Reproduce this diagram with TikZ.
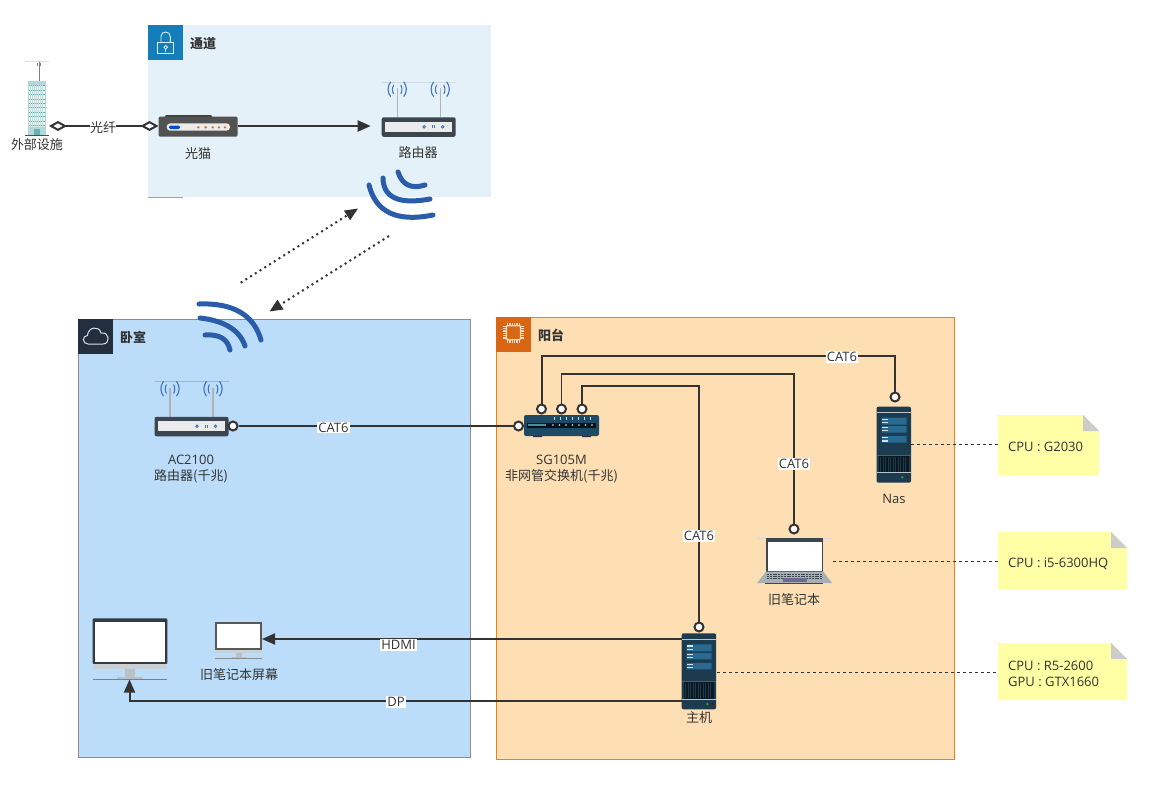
\documentclass[tikz,border=0pt]{standalone}
\usepackage{fontspec}
\setmainfont{Noto Sans CJK SC}
\newfontfamily\latinf{Open Sans}
\usetikzlibrary{arrows.meta,calc}
\definecolor{ink}{HTML}{333333}
\definecolor{wifi}{HTML}{2A5CAA}
\definecolor{antblue}{HTML}{3E72C4}
\definecolor{srv}{HTML}{1D3B4F}
\definecolor{srvbar}{HTML}{2A6A90}
\definecolor{notey}{HTML}{FFFFA6}
\definecolor{notefold}{HTML}{CCCCCC}
\definecolor{panelA}{HTML}{E5F1F8}
\definecolor{panelB}{HTML}{BBDDF9}
\definecolor{panelC}{HTML}{FEDFB3}
\definecolor{headA}{HTML}{147EBA}
\definecolor{headB}{HTML}{232F3E}
\definecolor{headC}{HTML}{D86613}
\definecolor{routerbody}{HTML}{3C4650}
\definecolor{screenframe}{HTML}{343A44}
\definecolor{chin}{HTML}{C9D0D6}
\definecolor{stand}{HTML}{B9C0C6}
\tikzset{
  txt/.style={inner sep=0pt,text=ink,font=\fontsize{13pt}{16pt}\selectfont,align=center},
  headtxt/.style={inner sep=0pt,anchor=west,text=ink,font=\fontsize{13pt}{16pt}\selectfont\bfseries},
  conlabel/.style={inner sep=1pt,fill=white,text=ink,font=\fontsize{13pt}{14pt}\selectfont\latinf},
  con/.style={draw=ink,line width=2pt},
  tri/.style={-{Triangle[length=13pt,width=11pt,fill=ink]}},
  port/.style={circle,draw=ink,fill=white,line width=2pt,minimum size=9pt,inner sep=0pt},
  wave/.style={draw=wifi,line width=5pt,line cap=round},
  dotarrow/.style={draw=ink,line width=2pt,dash pattern=on 2pt off 3.6pt,-{Triangle[length=13pt,width=11pt,fill=ink]}},
  notelink/.style={draw=ink,line width=.8pt,dashed},
  iconbox/.style={inner sep=0pt,outer sep=0pt},
  notetxt/.style={inner sep=0pt,anchor=west,align=left,text=ink,font=\fontsize{13pt}{16pt}\selectfont\latinf},
}
% router: origin = top-left of the case
\newcommand{\iconrouter}[4]{%
\begin{scope}[shift={(#2,#3)}]
  \draw[draw=black!40,draw opacity=#4,line width=.6pt] (0,-35.5) -- (74,-35.5);
  \draw[draw=black!30,line width=1.2pt] (15.5,-29) -- (15.5,0) (58.5,-29) -- (58.5,0);
  \foreach \ax in {15.5,58.5}{
    \draw[antblue,line width=1pt] (\ax-3.5,-32.3) .. controls (\ax-5.2,-30) and (\ax-5.2,-25.6) .. (\ax-3.5,-23.3);
    \draw[antblue,line width=1pt] (\ax+3.5,-32.3) .. controls (\ax+5.2,-30) and (\ax+5.2,-25.6) .. (\ax+3.5,-23.3);
    \draw[antblue,line width=1.1pt] (\ax-6.5,-35.5) .. controls (\ax-10,-31) and (\ax-10,-25) .. (\ax-6.5,-20.6);
    \draw[antblue,line width=1.1pt] (\ax+6.5,-35.5) .. controls (\ax+10,-31) and (\ax+10,-25) .. (\ax+6.5,-20.6);
  }
  \fill[routerbody,rounded corners=2pt] (0,0) rectangle (74,19.5);
  \fill[white!92!black] (3.5,4.5) rectangle (70.5,14.5);
  \draw[antblue,line width=.9pt] (42.5,9.5) circle (1.3pt) (61,9.5) circle (1.3pt);
  \draw[antblue,line width=.7pt] (50.5,8) -- (50.5,11) (52.5,8) -- (52.5,11);
  \node[iconbox,minimum width=74pt,minimum height=19.5pt] (#1) at (37,9.75) {};
\end{scope}}
% server: origin = top-left
\newcommand{\iconserver}[3]{%
\begin{scope}[shift={(#2,#3)}]
  \fill[srv,rounded corners=2pt] (0,0) rectangle (34.5,76);
  \fill[white!70!srv] (0,5.6) rectangle (34.5,6.6);
  \fill[srvbar] (5,11) rectangle (30,18) (5,19.5) rectangle (30,26) (5,29.5) rectangle (30,36);
  \foreach \yy in {12.7,16,21,24,31,34.3}{\fill[white!80!srvbar] (5.5,\yy-.6) rectangle (11.5,\yy+.6);}
  \fill[srvbar] (0,48) rectangle (34.5,48.9);
  \fill[black!60!srv] (2,49) rectangle (32.5,65.5);
  \foreach \xx in {4,6.5,...,31}{\draw[srv,line width=.5pt] (\xx,50) -- (\xx,65);}
  \fill[white!70!srv] (0,65.7) rectangle (34.5,66.7);
  \fill[green!45!teal] (25.7,70.7) circle (1.2pt);
  \fill[red!55!black] (30.7,70.7) circle (1.2pt);
  \node[iconbox,minimum width=34.5pt,minimum height=76pt] (#1) at (17.25,38) {};
\end{scope}}
\begin{document}
\begin{tikzpicture}[x=1pt,y=-1pt]
\useasboundingbox (0,0) rectangle (1152,804);
\fill[white] (0,0) rectangle (1152,804);

% ---------- panels
\fill[panelA] (148,25) rectangle (491,197);
\draw[headA!60!white,line width=.8pt] (148,197.3) -- (183,197.3);
\fill[headA] (148,25) rectangle (183,60);
\draw[fill=panelB,draw=black!45,line width=1pt] (78,319) rectangle (470,757);
\fill[headB] (78,319) rectangle (113,354);
\draw[fill=panelC,draw=orange!80!brown,line width=1pt] (496,317) rectangle (954,759);
\fill[headC] (496,317) rectangle (531,352);

% header icons
\draw[white!85!headA,line width=.9pt] (157.7,42.7) rectangle (173.7,53.5);
\draw[white!85!headA,line width=.9pt] (161,42.7) -- (161,36.5) .. controls (161,30.5) and (170.3,30.5) .. (170.3,36.5) -- (170.3,42.7);
\draw[white!85!headA,line width=.8pt] (165.7,47.3) circle (1.8pt);
\draw[white!85!headA,line width=.8pt] (165.7,49.1) -- (165.7,51.6);
\draw[black!12,line width=1pt,line join=round] (88,344) .. controls (82,344) and (82,335.5) .. (87.5,335.5)
  .. controls (88,327) and (99,325) .. (101,333)
  .. controls (110,331.5) and (110.5,344) .. (103,344) -- cycle;
\draw[white!75!headC,line width=1.4pt,rounded corners=1pt,fill=headC] (506.5,325.7) rectangle (520.5,339.7);
\foreach \k in {0,...,7}{
  \draw[white!75!headC,line width=.8pt] (507.3+\k*1.75,322.8) -- (507.3+\k*1.75,325)
    (507.3+\k*1.75,340.4) -- (507.3+\k*1.75,342.6)
    (503.4,326.5+\k*1.75) -- (505.8,326.5+\k*1.75)
    (521.2,326.5+\k*1.75) -- (523.6,326.5+\k*1.75);
}
\node[headtxt] (hA) at (190,44) {通道};
\node[headtxt] (hB) at (120,337) {卧室};
\node[headtxt] (hC) at (538,335) {阳台};

% ---------- building
\draw[black!12,line width=.6pt] (25,61) -- (49,61);
\draw[black!50,line width=.9pt] (39.3,62) -- (39.3,81);
\draw[black!50,line width=.7pt] (37.8,62.5) -- (37.8,66) (40.8,62.5) -- (40.8,66);
\fill[teal!30!white] (28.3,81) rectangle (46,135);
\fill[teal!8!white] (29,85) rectangle (45.3,127);
\foreach \r in {0,...,9}{\draw[teal!60!white,line width=.7pt] (29,85.5+\r*4.45) -- (45.3,85.5+\r*4.45);}
\foreach \c in {30.5,32.5,...,44}{\draw[teal!25!white,line width=.5pt] (\c,85) -- (\c,127);}
\fill[teal!60!white] (34,129) rectangle (40,135);
\draw[black!70,line width=1pt] (25,135.6) -- (49,135.6);
\node[iconbox,minimum width=24pt,minimum height=54pt] (bld) at (37,108) {};
\coordinate (bldout) at (49,126);

% ---------- modem
\fill[black!75,rounded corners=1pt] (165,115) rectangle (212,118);
\fill[black!68,rounded corners=2pt] (158.5,116.5) rectangle (237.7,136.7);
\fill[white!92!black,rounded corners=3.5pt] (166.7,123.3) rectangle (230,130.7);
\fill[blue!65!cyan!85!black,rounded corners=1.3pt] (169,125.5) rectangle (180,129);
\foreach \d in {198.3,205.7,212.7,219,225}{\fill[orange!80!red] (\d,127.3) circle (1.3pt);}
\node[iconbox,minimum width=79pt,minimum height=22pt] (modem) at (198,126) {};

% ---------- routers
\iconrouter{router}{381.7}{117.3}{.25}
\iconrouter{ac}{154.5}{416.8}{.6}

% ---------- switch
\fill[headB] (533,434) rectangle (542,437.2) (582,434) rectangle (591,437.2);
\fill[srvbar!70!black,rounded corners=2pt] (524,415) rectangle (599,436);
\fill[black!70!srv] (526.7,422.7) rectangle (596,427.5);
\fill[srvbar!50!teal!80!white] (527.5,424.3) rectangle (546,426);
\foreach \d in {553,559.5,566,572.5,579,585.5,592}{\fill[white!85!srvbar] (\d,425) circle (.8pt);}
\foreach \d in {554,560,566,572,578,584,590}{\draw[white!75!srvbar,line width=.9pt] (\d,416.5) -- (\d,420);}
\node[iconbox,minimum width=75pt,minimum height=21pt] (sw) at (561.5,425.5) {};

% ---------- servers
\iconserver{nas}{876.5}{406.7}
\iconserver{pc}{681.7}{633.3}

% ---------- laptop
\draw[black!15,line width=.5pt] (757,538) -- (832,538);
\fill[routerbody] (766,538.3) rectangle (823.3,572);
\fill[white] (767.5,541.7) rectangle (821.7,571);
\fill[srvbar!20!gray!60!white] (766,571.7) -- (823.3,571.7) -- (832,583) -- (757,583) -- cycle;
\foreach \yy in {574,576,578}{\draw[routerbody,line width=1pt,dash pattern=on 2pt off .8pt] (767,\yy) -- (822,\yy);}
\fill[gray!85!blue] (782.7,577.7) rectangle (806.7,582);
\draw[routerbody,line width=.8pt] (765,583.4) -- (823,583.4);
\node[iconbox,minimum width=75pt,minimum height=46pt] (lap) at (794.5,561) {};

% ---------- monitors
\fill[screenframe,rounded corners=1pt] (92.7,618.3) rectangle (167.3,664);
\fill[white] (95.3,622.3) rectangle (165.3,661.7);
\fill[chin] (92.7,664) rectangle (167.3,669.3);
\fill[stand] (125,669.3) rectangle (135,677.3);
\fill[stand] (116.7,677.3) rectangle (142.7,679);
\draw[black!50,line width=.7pt] (92.7,679.4) -- (167.3,679.4);
\node[iconbox,minimum width=75pt,minimum height=61pt] (bigmon) at (130,649) {};

\fill[black!65] (215,621.7) rectangle (261.7,649.5);
\fill[white] (217,624) rectangle (259.7,648);
\fill[chin] (215,649.5) rectangle (261.7,652.7);
\fill[stand] (235.7,652.7) rectangle (241.7,657.3);
\fill[stand] (231.7,657) rectangle (245.7,658);
\draw[black!45,line width=.6pt] (215,658.7) -- (261.7,658.7);
\node[iconbox,minimum width=47pt,minimum height=37pt] (smon) at (238.5,640.5) {};

% ---------- wifi arcs
\draw[wave] (398,172) .. controls (402.3,185) and (411.3,189.3) .. (425,185);
\draw[wave] (383,178) .. controls (383.3,197.7) and (399,204.7) .. (430,199);
\draw[wave] (369,185) .. controls (375.7,212.3) and (397,222.3) .. (433,215);
\draw[wave] (199,304) .. controls (233,302.7) and (253.7,314.7) .. (261,340);
\draw[wave] (200,318) .. controls (225,320.7) and (240,330.7) .. (245,346);
\draw[wave] (205,335) .. controls (219.3,334) and (227.7,339) .. (230,350);

% ---------- ports
\node[port] (pac) at (233,426) {};
\node[port] (psw) at (518.5,426) {};
\node[port] (p1) at (541.5,409) {};
\node[port] (p2) at (561.5,409) {};
\node[port] (p3) at (582,409) {};
\node[port] (pnas) at (895,397) {};
\node[port] (plap) at (794,529) {};
\node[port] (ppc) at (699,627) {};

% ---------- waypoints
\coordinate (t1) at (541.5,356);
\coordinate (t2) at (561.5,374);
\coordinate (t3) at (582,386);
\coordinate (dpcorner) at (129.5,700.5);
\coordinate (hdmiR) at (681.7,639);
\coordinate (dpR) at (681.7,700.5);
\coordinate (hdmiL) at (262,639);
\coordinate (d1s) at (240.7,282.7);
\coordinate (d1e) at (358,208.5);
\coordinate (d2s) at (389,236);
\coordinate (d2e) at (269.5,311.5);

% ---------- connectors
\draw[con,{Diamond[length=18pt,width=10pt,fill=white]}-{Diamond[length=18pt,width=10pt,fill=white]}] (bldout) -- (modem.west |- bldout);
\draw[con,tri] (modem.east) -- ([xshift=-11pt]router.west |- modem.east);
\draw[dotarrow] (d1s) -- (d1e);
\draw[dotarrow] (d2s) -- (d2e);
\draw[con] (pac) -- (psw);
\draw[con] (p1) -- (t1) -| (pnas);
\draw[con,line width=1.6pt] (p2) -- (t2) -| (plap);
\draw[con,line width=1.6pt] (p3) -- (t3) -| (ppc);
\draw[con,tri] (hdmiR) -- (hdmiL);
\draw[con,tri] (dpR) -- (dpcorner) -- (bigmon.south -| dpcorner);

\node[conlabel,inner sep=0pt,font=\fontsize{13pt}{14pt}\selectfont] (lfiber) at (103,127.5) {光纤};
\node[conlabel] (l1) at (333.5,427.5) {CAT6};
\node[conlabel] (l2) at (842,357) {CAT6};
\node[conlabel] (l3) at (794,464) {CAT6};
\node[conlabel] (l4) at (699,536) {CAT6};
\node[conlabel] (l5) at (398.5,645) {HDMI};
\node[conlabel] (l6) at (396,702) {DP};

% ---------- notes
\foreach \nm/\xa/\ya/\xb/\yb in {nA/998/415/1099/475,nB/998/532/1127/589,nC/998/643/1127/700}{
  \fill[notey] (\xa,\ya) -- (\xb-16,\ya) -- (\xb,\ya+16) -- (\xb,\yb) -- (\xa,\yb) -- cycle;
  \fill[notefold] (\xb-16,\ya) -- (\xb,\ya+16) -- (\xb-16,\ya+16) -- cycle;
  \node[iconbox,minimum width=\xb-\xa,minimum height=\yb-\ya] (\nm) at ({(\xa+\xb)/2},{(\ya+\yb)/2}) {};
}
\node[notetxt] (tA) at (1008,446.5) {CPU : G2030};
\node[notetxt] (tB) at (1008,563.5) {CPU : i5-6300HQ};
\node[notetxt] (tC) at (1008,673.5) {CPU : R5-2600\\GPU : GTX1660};
\coordinate (nasout) at (911,444);
\coordinate (lapout) at (833,561);
\coordinate (pcout) at (717,672);
\draw[notelink] (nasout) -- (nA.west |- nasout);
\draw[notelink] (lapout) -- (nB.west |- lapout);
\draw[notelink] (pcout) -- (nC.west |- pcout);

% ---------- captions
\node[txt] (c1) at (37,145) {外部设施};
\node[txt] (c2) at (198,154) {光猫};
\node[txt] (c3) at (418,153) {路由器};
\node[txt] (c4) at (191,469) {{\latinf AC2100}\\路由器(千兆)};
\node[txt] (c5) at (561.5,469) {{\latinf SG105M}\\非网管交换机(千兆)};
\node[txt,font=\fontsize{13pt}{16pt}\selectfont\latinf] (c6) at (894,499) {Nas};
\node[txt] (c7) at (794,600) {旧笔记本};
\node[txt] (c8) at (239,675) {旧笔记本屏幕};
\node[txt] (c9) at (699,718) {主机};
\end{tikzpicture}
\end{document}
